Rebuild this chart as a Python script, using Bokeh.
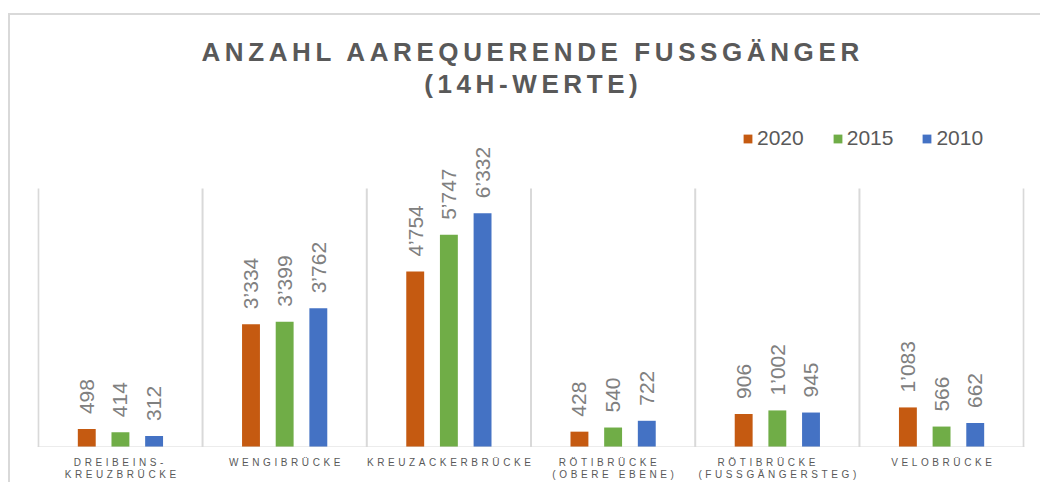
import math
from bokeh.plotting import figure
from bokeh.layouts import column
from bokeh.models import (ColumnDataSource, Range1d, FixedTicker, Legend, LegendItem, Label, Span)
from bokeh.transform import dodge
from bokeh.core.properties import value
from bokeh.embed import file_html
from bokeh.resources import INLINE

title_lines = ["ANZAHL AAREQUERENDE FUSSGÄNGER", "(14H-WERTE)"]
categories = ["DREIBEINS-\nKREUZBRÜCKE", "WENGIBRÜCKE", "KREUZACKERBRÜCKE",
              "RÖTIBRÜCKE\n(OBERE EBENE)", "RÖTIBRÜCKE\n(FUSSGÄNGERSTEG)", "VELOBRÜCKE"]
years = ["2020", "2015", "2010"]
v2020 = [498, 3334, 4754, 428, 906, 1083]
v2015 = [414, 3399, 5747, 540, 1002, 566]
v2010 = [312, 3762, 6332, 722, 945, 662]
colors = ["#C55A11", "#70AD47", "#4472C4"]
y_axis_max = 7000          # value axis maximum (top of the category separators)
y_view_max = 8973          # visible range incl. room for legend above the plot area

TITLE_LS = 4.6             # letter spacing of title (px)
CAT_LS = 3.6               # letter spacing of category labels (px)
FRAME_W = 987

def fmt(v):
    return f"{v:,}".replace(",", "\u2019")

xc = [i + 0.5 for i in range(len(categories))]
src = ColumnDataSource(dict(
    x=xc,
    v2020=v2020, v2015=v2015, v2010=v2010,
    l2020=[fmt(v) for v in v2020],
    l2015=[fmt(v) for v in v2015],
    l2010=[fmt(v) for v in v2010],
))
bounds = list(range(len(categories) + 1))
sep = ColumnDataSource(dict(x=bounds, y0=[0] * len(bounds), y1=[y_axis_max] * len(bounds)))

x_range = Range1d(-0.005, 6.005)
px_per_unit = FRAME_W / (x_range.end - x_range.start)
common = dict(width=1030, output_backend="svg", toolbar_location=None,
              min_border_left=27, min_border_right=16, min_border_bottom=0,
              x_range=x_range)

def ls_shift(text, ls):
    # Bokeh centres the text by its unspaced width; compensate the extra spacing
    n = max(len(line) for line in text.split("\n"))
    return (n - 1) * ls / 2

# ---- title figure (letter-spaced text) ----
tf = figure(height=100, min_border_top=0, x_axis_type=None, y_axis_type=None,
            title=None, **common)
tf.outline_line_color = None
tf.xgrid.visible = False
tf.ygrid.visible = False
tf.styles = {"letter-spacing": f"{TITLE_LS}px"}
for line, ypos in zip(title_lines, [64, 32]):
    tf.add_layout(Label(x=FRAME_W / 2, y=ypos, x_units="screen", y_units="screen", text=line,
                        text_align="center", text_baseline="alphabetic",
                        x_offset=-ls_shift(line, TITLE_LS),
                        text_font="Liberation Sans", text_font_size="26px",
                        text_font_style="bold", text_color="#595959"))

# ---- main chart ----
p = figure(frame_height=332, min_border_top=0, x_axis_type=None, y_axis_type=None,
           y_range=Range1d(0, y_view_max), title=None, **common)
p.outline_line_color = None
p.xgrid.visible = False
p.ygrid.visible = False

p.segment(x0="x", y0="y0", x1="x", y1="y1", source=sep, line_color="#D9D9D9", line_width=2)
p.add_layout(Span(location=0, dimension="width", line_color="#D9D9D9", line_width=2))

offs = [-0.205, 0.0, 0.205]
renderers = []
for yr, col, off in zip(years, colors, offs):
    r = p.vbar(x=dodge("x", off, range=p.x_range), top="v" + yr, width=0.109,
               source=src, fill_color=col, line_color=None)
    renderers.append(r)
    p.text(x=dodge("x", off, range=p.x_range), y="v" + yr, text="l" + yr, source=src,
           angle=math.pi / 2, text_align="left", text_baseline="middle", y_offset=-15,
           text_font=value("Liberation Sans"), text_font_size="21px", text_color="#808080")

legend = Legend(items=[LegendItem(label=yr, renderers=[r]) for yr, r in zip(years, renderers)],
                orientation="horizontal", location=(705, 297),
                label_text_font="Liberation Sans", label_text_font_size="21px",
                label_text_color="#595959", glyph_width=11, glyph_height=11,
                label_standoff=4, spacing=28, padding=0, margin=0,
                background_fill_alpha=0, border_line_color=None)
p.add_layout(legend)

# ---- category axis (letter-spaced labels) ----
tick_x = [x - ls_shift(c, CAT_LS) / px_per_unit for x, c in zip(xc, categories)]
af = figure(frame_height=1, min_border_top=0, y_axis_type=None, title=None,
            y_range=Range1d(0, 1), **common)
af.outline_line_color = None
af.xgrid.visible = False
af.ygrid.visible = False
af.styles = {"letter-spacing": f"{CAT_LS}px"}
ax = af.xaxis[0]
ax.ticker = FixedTicker(ticks=tick_x)
ax.major_label_overrides = {x: c for x, c in zip(tick_x, categories)}
ax.axis_line_color = None
ax.major_tick_line_color = None
ax.minor_tick_line_color = None
ax.major_label_standoff = 2
ax.major_label_text_font = "Liberation Sans"
ax.major_label_text_font_size = "10px"
ax.major_label_text_color = "#595959"
ax.major_label_text_line_height = 1.1

layout = column(tf, p, af, spacing=0,
                styles={"border-left": "2px solid #d9d9d9", "border-top": "2px solid #d9d9d9",
                        "margin-top": "13px", "margin-left": "8px"})

open("out.html", "w").write(file_html(layout, INLINE))
